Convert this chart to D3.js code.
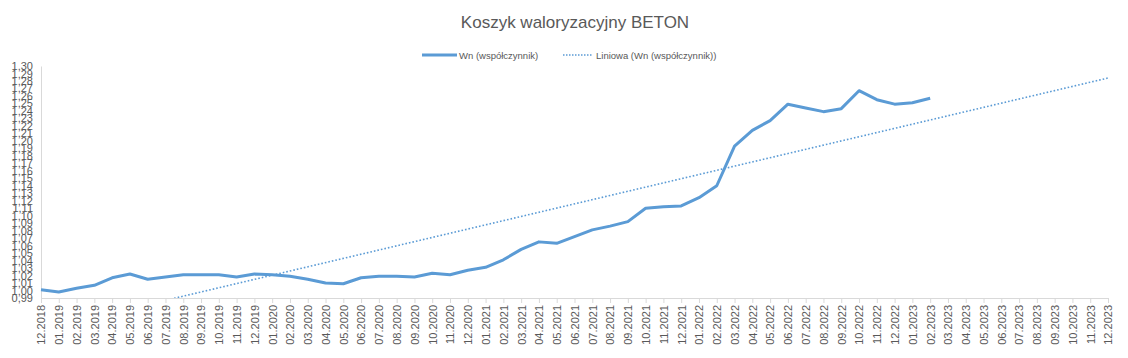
<!DOCTYPE html>
<html><head><meta charset="utf-8">
<script src="https://cdn.jsdelivr.net/npm/d3@7"></script>
<style>body{margin:0;background:#fff;} text{font-family:"Liberation Sans",Arial,sans-serif;}</style>
</head><body><svg id="c" width="1128" height="358"></svg>
<script>
const categories = ["12.2018","01.2019","02.2019","03.2019","04.2019","05.2019","06.2019","07.2019","08.2019","09.2019","10.2019","11.2019","12.2019",
"01.2020","02.2020","03.2020","04.2020","05.2020","06.2020","07.2020","08.2020","09.2020","10.2020","11.2020","12.2020",
"01.2021","02.2021","03.2021","04.2021","05.2021","06.2021","07.2021","08.2021","09.2021","10.2021","11.2021","12.2021",
"01.2022","02.2022","03.2022","04.2022","05.2022","06.2022","07.2022","08.2022","09.2022","10.2022","11.2022","12.2022",
"01.2023","02.2023","03.2023","04.2023","05.2023","06.2023","07.2023","08.2023","09.2023","10.2023","11.2023","12.2023"];
const wnValues = [1.001,0.998,1.003,1.007,1.017,1.022,1.015,1.018,1.021,1.021,1.021,1.018,1.022,
1.021,1.019,1.015,1.010,1.009,1.017,1.019,1.019,1.018,1.023,1.021,1.027,
1.031,1.041,1.055,1.065,1.063,1.072,1.081,1.086,1.092,1.110,1.112,1.113,
1.124,1.140,1.193,1.214,1.227,1.249,1.244,1.239,1.243,1.267,1.255,1.249,
1.251,1.257];
const yTicks = d3.range(99,131).map(d=>d/100);
const seriesName = "Wn (współczynnik)";
const trendName = "Liniowa (Wn (współczynnik))";
const title = "Koszyk waloryzacyjny BETON";

const svg = d3.select("#c");
const pL=41,pR=1108,pT=66,pB=298;
const x = d3.scalePoint().domain(categories).range([pL,pR]);
const y = d3.scaleLinear().domain([0.99,1.30]).range([pB,pT]);
const color="#5b9bd5", txt="#595959", axisCol="#d9d9d9";

svg.append("text").attr("x",575).attr("y",28).attr("text-anchor","middle")
  .attr("font-size",17).attr("fill",txt).text(title);

// legend
const lg = svg.append("g");
lg.append("line").attr("x1",422).attr("x2",457).attr("y1",55).attr("y2",55).attr("stroke",color).attr("stroke-width",3);
lg.append("text").attr("x",459).attr("y",58.5).attr("font-size",9.5).attr("fill",txt).text(seriesName);
lg.append("line").attr("x1",563).attr("x2",592).attr("y1",55).attr("y2",55).attr("stroke",color).attr("stroke-width",1.5).attr("stroke-dasharray","1.5,1.5");
lg.append("text").attr("x",596).attr("y",58.5).attr("font-size",9.5).attr("fill",txt).text(trendName);

// y axis
const ya = svg.append("g").attr("transform",`translate(${pL},0)`)
  .call(d3.axisLeft(y).tickValues(yTicks).tickSize(0).tickPadding(8).tickFormat(d=>d3.format(".2f")(d).replace(".",",")));
ya.select(".domain").attr("stroke",axisCol);
ya.selectAll("text").attr("font-size",11).attr("fill",txt).attr("font-family","Liberation Sans, Arial, sans-serif");

// x axis
const xa = svg.append("g").attr("transform",`translate(0,${pB})`)
  .call(d3.axisBottom(x).tickSize(5).tickSizeOuter(0));
xa.select(".domain").attr("stroke",axisCol);
xa.selectAll(".tick line").attr("stroke",axisCol);
xa.selectAll("text").attr("font-size",11).attr("fill",txt).attr("font-family","Liberation Sans, Arial, sans-serif")
  .attr("transform","rotate(-90)").attr("text-anchor","end").attr("x",-7).attr("y",0).attr("dy","0.35em");

// clip
svg.append("clipPath").attr("id","clip").append("rect").attr("x",pL).attr("y",pT-2).attr("width",pR-pL).attr("height",pB-pT+2);

// trend line (least squares)
const mx=d3.mean(wnValues,(d,i)=>i), my=d3.mean(wnValues);
let sxy=0,sxx=0; wnValues.forEach((v,i)=>{sxy+=(i-mx)*(v-my); sxx+=(i-mx)*(i-mx);});
const slope=sxy/sxx, icpt=my-slope*mx;
const trend=[0,categories.length-1].map(i=>({c:categories[i],v:icpt+slope*i}));
svg.append("path").datum(trend).attr("clip-path","url(#clip)")
  .attr("d",d3.line().x(d=>x(d.c)).y(d=>y(d.v)))
  .attr("fill","none").attr("stroke",color).attr("stroke-width",1.6).attr("stroke-dasharray","1.6,2");

// main line
svg.append("path").datum(wnValues)
  .attr("d",d3.line().x((d,i)=>x(categories[i])).y(d=>y(d)))
  .attr("fill","none").attr("stroke",color).attr("stroke-width",3).attr("stroke-linejoin","round");
</script></body></html>
